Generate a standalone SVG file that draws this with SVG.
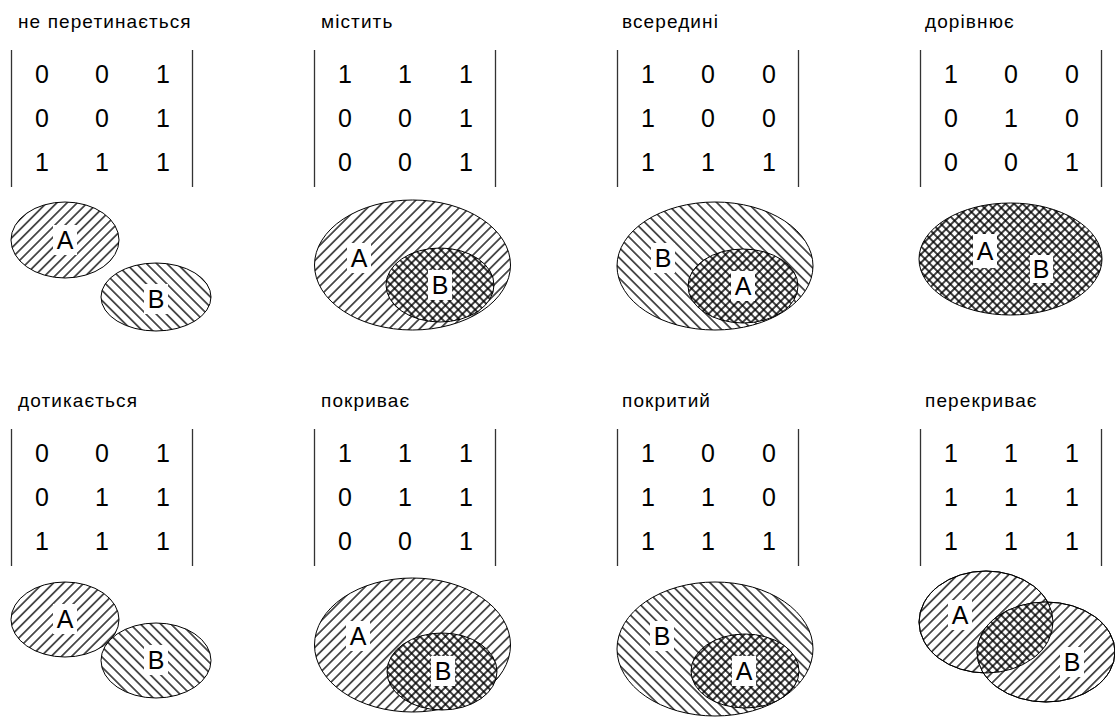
<svg xmlns="http://www.w3.org/2000/svg" width="1115" height="717" viewBox="0 0 1115 717">
<defs>
<pattern id="hf" width="7.2" height="7.2" patternUnits="userSpaceOnUse" patternTransform="rotate(45)"><rect width="7.2" height="7.2" fill="#fff"/><line x1="3.6" y1="-1" x2="3.6" y2="8.2" stroke="#000" stroke-width="1.3"/></pattern>
<pattern id="hb" width="7.2" height="7.2" patternUnits="userSpaceOnUse" patternTransform="rotate(-45)"><rect width="7.2" height="7.2" fill="#fff"/><line x1="3.6" y1="-1" x2="3.6" y2="8.2" stroke="#000" stroke-width="1.3"/></pattern>
<pattern id="hx" width="6" height="6" patternUnits="userSpaceOnUse" patternTransform="rotate(45)"><rect width="6" height="6" fill="#fff"/><line x1="3" y1="-1" x2="3" y2="7" stroke="#000" stroke-width="1.5"/><line x1="-1" y1="3" x2="7" y2="3" stroke="#000" stroke-width="1.5"/></pattern>
<clipPath id="clipA8"><ellipse cx="986" cy="622" rx="67" ry="51"/></clipPath>
<g id="matrixBars"><line x1="11.5" y1="50" x2="11.5" y2="187"/><line x1="192.5" y1="50" x2="192.5" y2="187"/></g>
</defs>
<style>
.title{font-family:"Liberation Sans",Arial,sans-serif;font-size:19px;letter-spacing:1.1px;fill:#000}
.num{font-family:"Liberation Sans",Arial,sans-serif;font-size:25px;fill:#000;text-anchor:middle}
.lbl{font-family:"Liberation Sans",Arial,sans-serif;font-size:25px;fill:#000;text-anchor:middle}
.bar{stroke:#333;stroke-width:1.3}
.ell{stroke:#000;stroke-width:1}
.box{fill:#fff}
</style>
<rect width="1115" height="717" fill="#fff"/>

<!-- Row 1 -->
<g id="disjoint">
<text class="title" x="18" y="28">не перетинається</text>
<use href="#matrixBars" class="bar"/>
<text class="num" x="42" y="83">0</text><text class="num" x="102" y="83">0</text><text class="num" x="163" y="83">1</text>
<text class="num" x="42" y="127">0</text><text class="num" x="102" y="127">0</text><text class="num" x="163" y="127">1</text>
<text class="num" x="42" y="171">1</text><text class="num" x="102" y="171">1</text><text class="num" x="163" y="171">1</text>
<ellipse class="ell" cx="65" cy="240" rx="54" ry="38" fill="url(#hf)"/>
<ellipse class="ell" cx="156" cy="297" rx="55" ry="34" fill="url(#hb)"/>
<rect class="box" x="53" y="225" width="24" height="30"/><text class="lbl" x="65" y="249">A</text>
<rect class="box" x="144" y="284" width="24" height="30"/><text class="lbl" x="156" y="308">B</text>
</g>

<g id="contains">
<text class="title" x="321" y="28">містить</text>
<use href="#matrixBars" class="bar" transform="translate(303,0)"/>
<text class="num" x="345" y="83">1</text><text class="num" x="405" y="83">1</text><text class="num" x="466" y="83">1</text>
<text class="num" x="345" y="127">0</text><text class="num" x="405" y="127">0</text><text class="num" x="466" y="127">1</text>
<text class="num" x="345" y="171">0</text><text class="num" x="405" y="171">0</text><text class="num" x="466" y="171">1</text>
<ellipse class="ell" cx="412.5" cy="265" rx="98" ry="65" fill="url(#hf)"/>
<ellipse class="ell" cx="440" cy="285" rx="54" ry="37" fill="url(#hx)"/>
<rect class="box" x="347" y="243" width="24" height="30"/><text class="lbl" x="359" y="267">A</text>
<rect class="box" x="428" y="270" width="24" height="30"/><text class="lbl" x="440" y="294">B</text>
</g>

<g id="inside">
<text class="title" x="622" y="28">всередині</text>
<use href="#matrixBars" class="bar" transform="translate(606,0)"/>
<text class="num" x="648" y="83">1</text><text class="num" x="708" y="83">0</text><text class="num" x="769" y="83">0</text>
<text class="num" x="648" y="127">1</text><text class="num" x="708" y="127">0</text><text class="num" x="769" y="127">0</text>
<text class="num" x="648" y="171">1</text><text class="num" x="708" y="171">1</text><text class="num" x="769" y="171">1</text>
<ellipse class="ell" cx="715" cy="266" rx="98" ry="64" fill="url(#hb)"/>
<ellipse class="ell" cx="743" cy="286" rx="55" ry="37" fill="url(#hx)"/>
<rect class="box" x="651" y="243" width="24" height="30"/><text class="lbl" x="663" y="267">B</text>
<rect class="box" x="731" y="271" width="24" height="30"/><text class="lbl" x="743" y="295">A</text>
</g>

<g id="equal">
<text class="title" x="925" y="28">дорівнює</text>
<use href="#matrixBars" class="bar" transform="translate(909,0)"/>
<text class="num" x="951" y="83">1</text><text class="num" x="1011" y="83">0</text><text class="num" x="1072" y="83">0</text>
<text class="num" x="951" y="127">0</text><text class="num" x="1011" y="127">1</text><text class="num" x="1072" y="127">0</text>
<text class="num" x="951" y="171">0</text><text class="num" x="1011" y="171">0</text><text class="num" x="1072" y="171">1</text>
<ellipse class="ell" cx="1010.5" cy="259" rx="91.5" ry="56" fill="url(#hx)"/>
<rect class="box" x="973" y="234" width="24" height="34"/><text class="lbl" x="985" y="260">A</text>
<rect class="box" x="1030" y="255" width="23" height="28"/><text class="lbl" x="1041" y="278">B</text>
</g>

<!-- Row 2 -->
<g id="touches">
<text class="title" x="18" y="407">дотикається</text>
<use href="#matrixBars" class="bar" transform="translate(0,379)"/>
<text class="num" x="42" y="462">0</text><text class="num" x="102" y="462">0</text><text class="num" x="163" y="462">1</text>
<text class="num" x="42" y="506">0</text><text class="num" x="102" y="506">1</text><text class="num" x="163" y="506">1</text>
<text class="num" x="42" y="550">1</text><text class="num" x="102" y="550">1</text><text class="num" x="163" y="550">1</text>
<ellipse class="ell" cx="65" cy="619.5" rx="54" ry="37.5" fill="url(#hf)"/>
<ellipse class="ell" cx="156" cy="660.5" rx="55" ry="37.5" fill="url(#hb)"/>
<rect class="box" x="53" y="604" width="24" height="30"/><text class="lbl" x="65" y="628">A</text>
<rect class="box" x="144" y="645" width="24" height="30"/><text class="lbl" x="156" y="669">B</text>
</g>

<g id="covers">
<text class="title" x="321" y="407">покриває</text>
<use href="#matrixBars" class="bar" transform="translate(303,379)"/>
<text class="num" x="345" y="462">1</text><text class="num" x="405" y="462">1</text><text class="num" x="466" y="462">1</text>
<text class="num" x="345" y="506">0</text><text class="num" x="405" y="506">1</text><text class="num" x="466" y="506">1</text>
<text class="num" x="345" y="550">0</text><text class="num" x="405" y="550">0</text><text class="num" x="466" y="550">1</text>
<ellipse class="ell" cx="412.5" cy="645" rx="98" ry="67" fill="url(#hf)"/>
<ellipse class="ell" cx="442" cy="671.5" rx="55" ry="38.5" fill="url(#hx)"/>
<rect class="box" x="346" y="621" width="24" height="30"/><text class="lbl" x="358" y="645">A</text>
<rect class="box" x="431" y="656" width="24" height="30"/><text class="lbl" x="443" y="680">B</text>
</g>

<g id="coveredBy">
<text class="title" x="622" y="407">покритий</text>
<use href="#matrixBars" class="bar" transform="translate(606,379)"/>
<text class="num" x="648" y="462">1</text><text class="num" x="708" y="462">0</text><text class="num" x="769" y="462">0</text>
<text class="num" x="648" y="506">1</text><text class="num" x="708" y="506">1</text><text class="num" x="769" y="506">0</text>
<text class="num" x="648" y="550">1</text><text class="num" x="708" y="550">1</text><text class="num" x="769" y="550">1</text>
<ellipse class="ell" cx="715" cy="649" rx="98" ry="67" fill="url(#hb)"/>
<ellipse class="ell" cx="745" cy="671" rx="54" ry="37" fill="url(#hx)"/>
<rect class="box" x="650" y="621" width="24" height="30"/><text class="lbl" x="662" y="645">B</text>
<rect class="box" x="732" y="656" width="24" height="30"/><text class="lbl" x="744" y="680">A</text>
</g>

<g id="overlaps">
<text class="title" x="925" y="407">перекриває</text>
<use href="#matrixBars" class="bar" transform="translate(909,379)"/>
<text class="num" x="951" y="462">1</text><text class="num" x="1011" y="462">1</text><text class="num" x="1072" y="462">1</text>
<text class="num" x="951" y="506">1</text><text class="num" x="1011" y="506">1</text><text class="num" x="1072" y="506">1</text>
<text class="num" x="951" y="550">1</text><text class="num" x="1011" y="550">1</text><text class="num" x="1072" y="550">1</text>
<ellipse class="ell" cx="986" cy="622" rx="67" ry="51" fill="url(#hf)"/>
<ellipse class="ell" cx="1046" cy="652" rx="69" ry="50" fill="url(#hf)"/>
<ellipse cx="1046" cy="652" rx="69" ry="50" fill="url(#hx)" clip-path="url(#clipA8)"/>
<ellipse class="ell" cx="986" cy="622" rx="67" ry="51" fill="none"/>
<ellipse class="ell" cx="1046" cy="652" rx="69" ry="50" fill="none"/>
<rect class="box" x="948" y="600" width="24" height="30"/><text class="lbl" x="960" y="624">A</text>
<rect class="box" x="1060" y="647" width="24" height="30"/><text class="lbl" x="1072" y="671">B</text>
</g>

<g id="connectors"></g>
</svg>
